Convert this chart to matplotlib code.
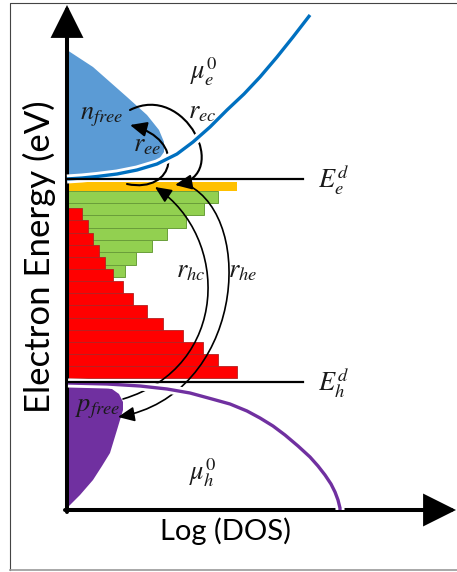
import matplotlib
matplotlib.use('Agg')
import matplotlib.pyplot as plt
import numpy as np
from matplotlib.patches import FancyArrowPatch
from matplotlib.path import Path
import matplotlib.patheffects as pe

plt.rcParams['mathtext.fontset'] = 'stix'

# energy levels of the donor states (axis units, energy up, DOS right)
E_e_d = 331
E_h_d = 128

# impurity band DOS, listed from top to bottom
orange_dos = [170]
green_dos = [151, 137, 119, 100, 85, 69, 58]
red_dos = [15, 21, 26, 32, 38, 46, 56, 66, 80, 96, 116, 136, 151, 170]

# conduction band edge (DOS, energy)
cb_dos = [0, 15, 30, 50, 70, 90, 110, 126, 143, 160, 177, 193, 210, 226, 243]
cb_energy = [331, 332, 333.5, 336, 340, 346, 356, 368, 383, 400, 416, 433, 453, 473, 495]

# free electrons (filled region)
nfree_dos = [0, 26, 60, 80, 92, 97, 97, 92, 80, 60, 40, 20, 0]
nfree_energy = [460, 443, 413, 395, 380, 368, 358, 351, 345, 339, 335, 333, 332]

# valence band edge (DOS, energy)
vb_dos = [1, 40, 73, 100, 123, 145, 163, 180, 193, 206, 218, 231, 243, 251, 258, 264, 268, 271, 273, 273]
vb_energy = [127, 126, 124, 121, 117, 111, 106, 99, 92, 84, 75, 64, 53, 44, 35, 26, 18, 10, 2, 0]

# free holes (filled region)
pfree_dos = [0, 20, 35, 45, 52, 56, 56, 50, 43, 35, 26, 13, 0]
pfree_energy = [126, 125, 124, 121, 116, 108, 100, 80, 57, 44, 30, 15, 2]


def main():
    fig = plt.figure(figsize=(4.57, 5.72), dpi=100)
    ax = fig.add_axes([0, 0, 1, 1])
    ax.set_xlim(-67, 390)
    ax.set_ylim(-62, 510)
    ax.axis('off')

    # outer frame
    ax.plot([-57, -57, 395], [-60, 507, 507], color='#444444', lw=0.8)
    ax.plot([-57, 395], [-60, -60], color='#999999', lw=1.2)

    # filled carrier regions
    ax.fill(nfree_dos, nfree_energy, color='#5b9bd5', lw=0)
    ax.fill(pfree_dos, pfree_energy, color='#7030a0', lw=0)

    white = [pe.Stroke(linewidth=6.5, foreground='white'), pe.Normal()]
    ax.plot(cb_dos, cb_energy, color='#0070c0', lw=2.4, solid_capstyle='butt',
            path_effects=white)
    ax.plot(vb_dos, vb_energy, color='#7030a0', lw=2.4, solid_capstyle='butt',
            path_effects=white)

    # impurity bands
    h_o, h_g, h_r = 9.0, 12.3, 12.14
    top_o, top_g, top_r = 328.3, 319.3, 301.7
    y_o = top_o - h_o * (np.arange(len(orange_dos)) + 1)
    y_g = top_g - h_g * (np.arange(len(green_dos)) + 1)
    y_r = top_r - h_r * (np.arange(len(red_dos)) + 1)
    ax.barh(y_o, orange_dos, height=h_o, left=0, align='edge', color='#ffc000', lw=0)
    ax.barh(y_g, green_dos, height=h_g, left=0, align='edge', color='#92d050',
            edgecolor='#6a9e3a', lw=0.7)
    ax.barh(y_r, red_dos, height=h_r, left=0, align='edge', color='#ff0000',
            edgecolor='#b22222', lw=0.6)

    # donor levels
    ax.plot([0, 236], [E_e_d, E_e_d], color='black', lw=1.6)
    ax.plot([0, 236], [E_h_d, E_h_d], color='black', lw=1.6)

    # axes arrows
    for tip, start in [((0, 505), (0, -2)), ((389, 0), (-2, 0))]:
        ax.add_patch(FancyArrowPatch(start, tip,
                                     arrowstyle='-|>,head_length=19,head_width=9.5',
                                     mutation_scale=1, lw=2.9, color='black',
                                     shrinkA=0, shrinkB=0, joinstyle='miter'))

    # transition arrows (cubic curves)
    arcs = [
        ([(63, 400), (118, 428), (165, 335), (108, 325)], 1.5),   # r_ec
        ([(60, 326), (108, 316), (120, 370), (63, 385)], 1.5),    # r_ee
        ([(56, 111), (163, 143), (163, 273), (88, 323)], 1.2),    # r_hc
        ([(121, 325), (190, 290), (175, 115), (51, 93)], 1.2),    # r_he
    ]
    codes = [Path.MOVETO, Path.CURVE4, Path.CURVE4, Path.CURVE4]
    for verts, lw in arcs:
        ax.add_patch(FancyArrowPatch(path=Path(verts, codes),
                                     arrowstyle='-|>,head_length=10,head_width=4.5',
                                     mutation_scale=1, lw=lw, color='black'))

    fs = 19
    labels = [
        (r'$\mu_e^0$', 137, 438, 'center'),
        (r'$r_{ec}$', 135, 399, 'center'),
        (r'$n_{free}$', 35, 394, 'center'),
        (r'$r_{ee}$', 80, 366, 'center'),
        (r'$E_e^d$', 251, 330, 'left'),
        (r'$r_{hc}$', 124, 240, 'center'),
        (r'$r_{he}$', 176, 240, 'center'),
        (r'$E_h^d$', 251, 127, 'left'),
        (r'$p_{free}$', 31, 102, 'center'),
        (r'$\mu_h^0$', 136, 37, 'center'),
    ]
    for txt, x, y, ha in labels:
        ax.text(x, y, txt, fontsize=fs, ha=ha, va='center', color='#1a1a1a')

    ax.text(158, -21, 'Log (DOS)', fontsize=21, family='Lato', ha='center', va='center')
    ax.text(-28, 253, 'Electron Energy (eV)', fontsize=25, family='Lato',
            rotation=90, ha='center', va='center')

    fig.savefig('out.png', dpi=100)


if __name__ == "__main__":
    main()
